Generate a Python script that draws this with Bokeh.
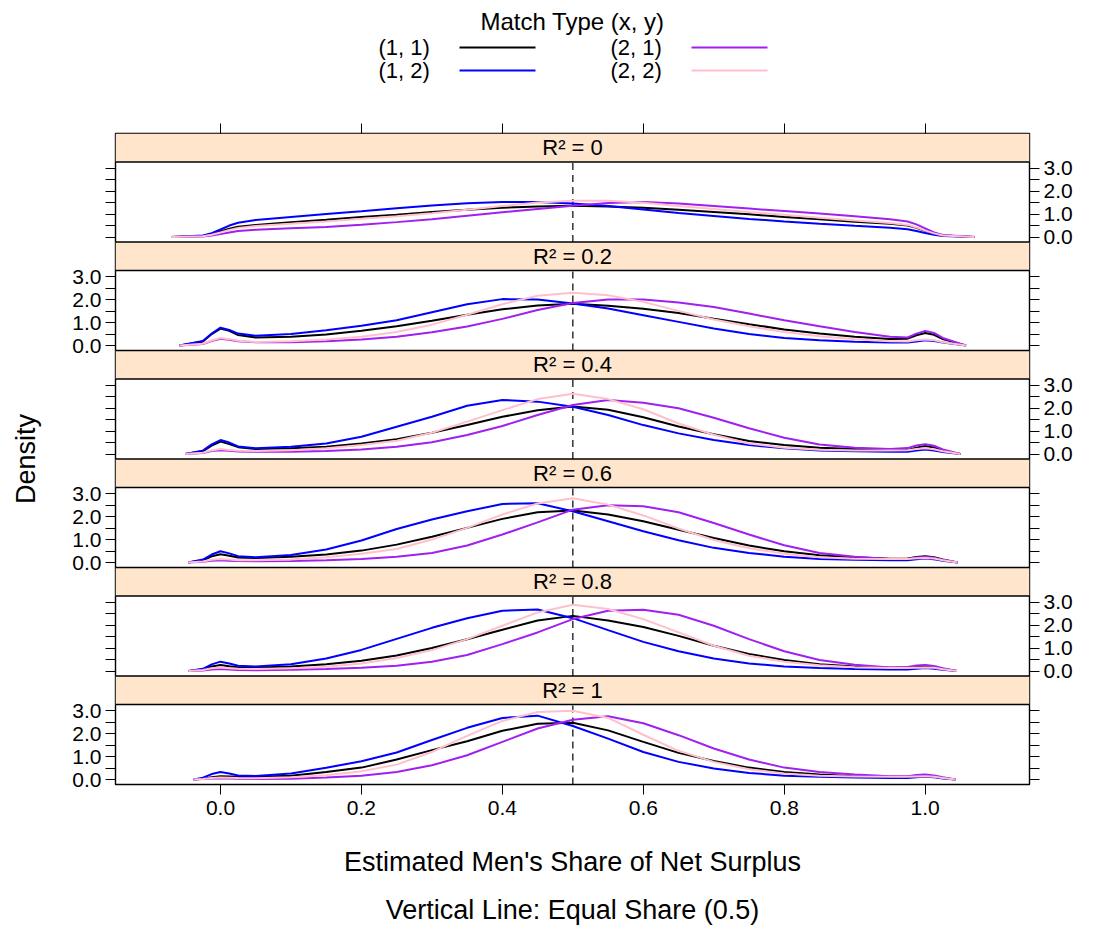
from bokeh.core.properties import value
from bokeh.embed import file_html
from bokeh.layouts import column
from bokeh.models import (ColumnDataSource, CustomJSTickFormatter, FixedTicker,
                          LinearAxis, Range1d, Span, Title)
from bokeh.plotting import figure
from bokeh.resources import INLINE

FONT = "Liberation Sans"

# ---------------------------------------------------------------- data
r2_levels = ["0", "0.2", "0.4", "0.6", "0.8", "1"]
group_labels = ["(1, 1)", "(1, 2)", "(2, 1)", "(2, 2)"]
group_colors = ["#000000", "#0000FF", "#A020F0", "#FFC0CB"]
equal_share = 0.5

# evaluation points of the kernel density estimates (shared interior grid,
# panel-specific support ends)
inner_grid = [-0.025, -0.0125, 0.0, 0.0125, 0.025, 0.05, 0.10, 0.15, 0.20,
              0.25, 0.30, 0.35, 0.40, 0.45, 0.50, 0.55, 0.60, 0.65, 0.70,
              0.75, 0.80, 0.85, 0.90, 0.95, 0.975, 0.9875, 1.0, 1.0125, 1.025]
grid_lo = [-0.07, -0.058, -0.05, -0.046, -0.045, -0.038]
grid_hi = [1.07, 1.058, 1.05, 1.046, 1.045, 1.043]

# density of the estimated share, one list per R^2 level
dens_11 = [
    [0, 0.05, 0.12, 0.24, 0.36, 0.45, 0.53, 0.65, 0.75, 0.87, 0.97, 1.09, 1.19, 1.28, 1.33, 1.36,
     1.33, 1.28, 1.19, 1.09, 0.99, 0.87, 0.77, 0.67, 0.58, 0.50, 0.40, 0.27, 0.15, 0.07, 0],
    [0, 0.18, 0.50, 0.74, 0.64, 0.46, 0.35, 0.38, 0.48, 0.64, 0.84, 1.08, 1.34, 1.58, 1.74, 1.82,
     1.73, 1.60, 1.42, 1.17, 0.93, 0.70, 0.52, 0.38, 0.29, 0.30, 0.45, 0.55, 0.47, 0.28, 0],
    [0, 0.13, 0.37, 0.54, 0.44, 0.30, 0.22, 0.25, 0.32, 0.46, 0.65, 0.93, 1.26, 1.62, 1.91, 2.07,
     1.93, 1.60, 1.20, 0.86, 0.57, 0.39, 0.28, 0.22, 0.17, 0.18, 0.28, 0.35, 0.29, 0.15, 0],
    [0, 0.10, 0.27, 0.36, 0.30, 0.22, 0.20, 0.25, 0.35, 0.52, 0.78, 1.12, 1.51, 1.90, 2.19, 2.26,
     2.09, 1.80, 1.43, 1.07, 0.74, 0.49, 0.32, 0.23, 0.17, 0.18, 0.24, 0.28, 0.23, 0.13, 0],
    [0, 0.08, 0.20, 0.26, 0.21, 0.17, 0.16, 0.20, 0.30, 0.45, 0.68, 1.00, 1.38, 1.80, 2.20, 2.40,
     2.20, 1.92, 1.53, 1.10, 0.74, 0.48, 0.30, 0.20, 0.14, 0.14, 0.18, 0.20, 0.17, 0.10, 0],
    [0, 0.04, 0.10, 0.14, 0.13, 0.12, 0.12, 0.17, 0.33, 0.52, 0.87, 1.28, 1.67, 2.12, 2.43, 2.47,
     2.14, 1.64, 1.16, 0.81, 0.52, 0.33, 0.22, 0.14, 0.12, 0.12, 0.13, 0.14, 0.12, 0.07, 0],
]
dens_12 = [
    [0, 0.07, 0.17, 0.33, 0.50, 0.62, 0.74, 0.87, 1.00, 1.12, 1.25, 1.37, 1.47, 1.53, 1.53, 1.46,
     1.35, 1.20, 1.05, 0.92, 0.79, 0.68, 0.58, 0.49, 0.41, 0.34, 0.26, 0.18, 0.10, 0.05, 0],
    [0, 0.20, 0.52, 0.78, 0.68, 0.52, 0.43, 0.50, 0.67, 0.86, 1.10, 1.45, 1.80, 2.02, 2.00, 1.83,
     1.61, 1.32, 1.03, 0.74, 0.50, 0.33, 0.23, 0.17, 0.13, 0.13, 0.18, 0.23, 0.20, 0.13, 0],
    [0, 0.15, 0.42, 0.61, 0.50, 0.33, 0.25, 0.32, 0.46, 0.75, 1.19, 1.62, 2.10, 2.35, 2.28, 2.06,
     1.70, 1.26, 0.90, 0.61, 0.39, 0.25, 0.16, 0.12, 0.10, 0.10, 0.15, 0.20, 0.16, 0.09, 0],
    [0, 0.13, 0.35, 0.49, 0.40, 0.28, 0.23, 0.33, 0.57, 0.96, 1.46, 1.87, 2.23, 2.55, 2.58, 2.23,
     1.80, 1.36, 0.97, 0.64, 0.42, 0.25, 0.16, 0.12, 0.10, 0.10, 0.14, 0.18, 0.14, 0.08, 0],
    [0, 0.10, 0.29, 0.41, 0.33, 0.23, 0.20, 0.30, 0.55, 0.92, 1.40, 1.88, 2.30, 2.62, 2.68, 2.30,
     1.78, 1.27, 0.86, 0.55, 0.33, 0.20, 0.13, 0.09, 0.07, 0.07, 0.10, 0.13, 0.10, 0.06, 0],
    [0, 0.08, 0.24, 0.33, 0.26, 0.18, 0.16, 0.26, 0.51, 0.80, 1.18, 1.72, 2.25, 2.68, 2.78, 2.33,
     1.78, 1.20, 0.77, 0.48, 0.29, 0.17, 0.12, 0.09, 0.07, 0.07, 0.10, 0.12, 0.10, 0.05, 0],
]
dens_21 = [
    [0, 0.03, 0.07, 0.13, 0.20, 0.26, 0.32, 0.38, 0.44, 0.54, 0.65, 0.78, 0.93, 1.08, 1.22, 1.36,
     1.48, 1.52, 1.46, 1.35, 1.24, 1.13, 1.02, 0.91, 0.78, 0.68, 0.55, 0.38, 0.20, 0.09, 0],
    [0, 0.07, 0.20, 0.30, 0.25, 0.19, 0.14, 0.15, 0.19, 0.26, 0.38, 0.58, 0.83, 1.16, 1.55, 1.85,
     2.00, 2.00, 1.87, 1.68, 1.39, 1.10, 0.84, 0.59, 0.38, 0.35, 0.52, 0.64, 0.55, 0.33, 0],
    [0, 0.05, 0.13, 0.17, 0.14, 0.11, 0.10, 0.10, 0.13, 0.20, 0.32, 0.51, 0.83, 1.22, 1.70, 2.13,
     2.35, 2.23, 1.99, 1.58, 1.12, 0.71, 0.42, 0.28, 0.22, 0.26, 0.37, 0.43, 0.36, 0.20, 0],
    [0, 0.04, 0.08, 0.10, 0.08, 0.07, 0.06, 0.07, 0.10, 0.16, 0.25, 0.42, 0.74, 1.22, 1.75, 2.30,
     2.49, 2.45, 2.19, 1.72, 1.22, 0.75, 0.42, 0.25, 0.16, 0.17, 0.22, 0.25, 0.21, 0.12, 0],
    [0, 0.03, 0.07, 0.09, 0.07, 0.05, 0.04, 0.06, 0.09, 0.14, 0.23, 0.41, 0.70, 1.17, 1.68, 2.26,
     2.62, 2.67, 2.45, 1.97, 1.39, 0.86, 0.48, 0.28, 0.16, 0.18, 0.24, 0.26, 0.22, 0.12, 0],
    [0, 0.02, 0.05, 0.06, 0.05, 0.04, 0.03, 0.04, 0.09, 0.17, 0.33, 0.62, 1.06, 1.64, 2.22, 2.60,
     2.75, 2.45, 1.93, 1.35, 0.87, 0.52, 0.33, 0.22, 0.14, 0.15, 0.20, 0.22, 0.18, 0.10, 0],
]
dens_22 = [
    [0, 0.04, 0.10, 0.20, 0.31, 0.40, 0.48, 0.58, 0.68, 0.80, 0.91, 1.04, 1.19, 1.35, 1.50, 1.58,
     1.58, 1.49, 1.35, 1.22, 1.09, 0.97, 0.84, 0.72, 0.61, 0.53, 0.42, 0.28, 0.16, 0.07, 0],
    [0, 0.08, 0.22, 0.33, 0.28, 0.21, 0.16, 0.19, 0.26, 0.38, 0.59, 0.91, 1.34, 1.80, 2.17, 2.30,
     2.19, 1.90, 1.51, 1.13, 0.84, 0.59, 0.41, 0.27, 0.19, 0.18, 0.23, 0.26, 0.23, 0.14, 0],
    [0, 0.06, 0.16, 0.22, 0.18, 0.14, 0.13, 0.17, 0.25, 0.39, 0.58, 0.93, 1.41, 1.91, 2.39, 2.62,
     2.39, 1.95, 1.33, 0.84, 0.46, 0.28, 0.19, 0.16, 0.16, 0.17, 0.22, 0.25, 0.21, 0.12, 0],
    [0, 0.05, 0.12, 0.16, 0.13, 0.10, 0.10, 0.13, 0.23, 0.38, 0.59, 1.00, 1.51, 2.09, 2.57, 2.80,
     2.52, 2.05, 1.48, 0.98, 0.62, 0.38, 0.23, 0.17, 0.16, 0.16, 0.19, 0.20, 0.18, 0.10, 0],
    [0, 0.05, 0.12, 0.16, 0.12, 0.10, 0.09, 0.12, 0.19, 0.33, 0.57, 0.91, 1.39, 1.97, 2.55, 2.88,
     2.70, 2.26, 1.68, 1.10, 0.67, 0.41, 0.25, 0.17, 0.13, 0.13, 0.15, 0.16, 0.14, 0.08, 0],
    [0, 0.03, 0.07, 0.09, 0.08, 0.07, 0.06, 0.10, 0.19, 0.36, 0.65, 1.20, 1.90, 2.55, 2.94, 2.99,
     2.68, 1.95, 1.25, 0.77, 0.45, 0.26, 0.17, 0.13, 0.12, 0.12, 0.13, 0.14, 0.12, 0.07, 0],
]
group_densities = [dens_11, dens_12, dens_21, dens_22]

x_ticks = [0.0, 0.2, 0.4, 0.6, 0.8, 1.0]
y_ticks = [0.0, 0.5, 1.0, 1.5, 2.0, 2.5, 3.0]

# ---------------------------------------------------------------- layout
# The six panels are stacked inside one plot: each panel gets its own block
# of the vertical scale (density axis + a strip on top of it).
X_LIM = (-0.149, 1.148)
Y_LIM = (-0.214, 3.264)          # density limits shared by every panel
PX_PER_UNIT = 23.0
PANEL_U = Y_LIM[1] - Y_LIM[0]     # panel height in density units
STRIP_U = 28.5 / PX_PER_UNIT      # strip height in density units
BLOCK = PANEL_U + STRIP_U
N = len(r2_levels)
FRAME_W = 914
LEFT_B, RIGHT_B = 115, 65
STRIP_FILL = "#FFE5CC"
TICK_FONT = "21px"
LABEL_FONT = "27px"
BORDER_W = 1.4


def block_base(k):
    """Bottom of the k-th panel (k = 0 is the top panel) on the stacked scale."""
    return (N - 1 - k) * BLOCK


def stacked(k, d):
    return block_base(k) + (d - Y_LIM[0])


frame_h = round(N * BLOCK * PX_PER_UNIT)
p = figure(frame_width=FRAME_W, frame_height=frame_h,
           x_range=Range1d(*X_LIM), y_range=Range1d(0, N * BLOCK),
           output_backend="svg", toolbar_location=None,
           x_axis_location=None, y_axis_location=None,
           min_border_left=LEFT_B, min_border_right=RIGHT_B,
           min_border_top=40, min_border_bottom=145)
p.grid.visible = False
p.background_fill_color = "white"
p.border_fill_color = "white"
p.outline_line_color = "black"
p.outline_line_width = BORDER_W

for k, level in enumerate(r2_levels):
    base = block_base(k)
    strip_lo = base + PANEL_U
    strip_hi = base + BLOCK

    # strip with the conditioning level
    p.quad(left=[X_LIM[0]], right=[X_LIM[1]], bottom=[strip_lo], top=[strip_hi],
           fill_color=STRIP_FILL, line_color=None)
    p.add_layout(Span(location=strip_lo, dimension="width",
                      line_color="black", line_width=BORDER_W))
    if k < N - 1:
        p.add_layout(Span(location=base, dimension="width",
                          line_color="black", line_width=BORDER_W))
    p.text(x=[(X_LIM[0] + X_LIM[1]) / 2], y=[(strip_lo + strip_hi) / 2],
           text=["R\u00b2 = " + level], text_align="center", text_baseline="middle",
           text_font=value(FONT), text_font_size="22px", text_color="black")

    # reference line at equal share
    p.segment(x0=[equal_share], y0=[base], x1=[equal_share], y1=[strip_lo],
              line_color="black", line_dash="7 5", line_width=1.2)

    # density curves
    xs = [grid_lo[k]] + inner_grid + [grid_hi[k]]
    for g, color in enumerate(group_colors):
        ys = [stacked(k, d) for d in group_densities[g][k]]
        src = ColumnDataSource(dict(x=xs, y=ys, density=group_densities[g][k]))
        p.line("x", "y", source=src, line_color=color, line_width=2)


def style_axis(ax):
    ax.axis_line_color = None
    ax.major_tick_in = 0
    ax.major_tick_out = 10
    ax.major_tick_line_color = "black"
    ax.major_tick_line_width = 1
    ax.minor_tick_line_color = None
    ax.major_label_text_font = FONT
    ax.major_label_text_font_size = TICK_FONT
    ax.major_label_text_color = "black"
    ax.major_label_standoff = 4


def style_axis_label(ax, text, standoff):
    ax.axis_label = text
    ax.axis_label_text_font = FONT
    ax.axis_label_text_font_size = LABEL_FONT
    ax.axis_label_text_font_style = "normal"
    ax.axis_label_text_color = "black"
    ax.axis_label_standoff = standoff


# y axes: ticks every 0.5 in every panel, labels alternate right / left
y_tick_pos = [stacked(k, t) for k in range(N) for t in y_ticks]
for side, parity in (("left", 1), ("right", 0)):
    fmt = CustomJSTickFormatter(code=f"""
        const j = Math.floor(tick / {BLOCK} + 1e-9);
        const k = {N - 1} - j;
        const d = Math.round((tick - j * {BLOCK} + ({Y_LIM[0]})) * 2) / 2;
        if (k % 2 !== {parity} || !Number.isInteger(d)) return '';
        return d.toFixed(1);
    """)
    ax = LinearAxis(ticker=FixedTicker(ticks=y_tick_pos), formatter=fmt)
    style_axis(ax)
    if side == "left":
        style_axis_label(ax, "Density", 28)
    p.add_layout(ax, side)

top_ax = LinearAxis(ticker=FixedTicker(ticks=x_ticks),
                    formatter=CustomJSTickFormatter(code="return '';"))
style_axis(top_ax)
top_ax.major_label_text_font_size = "0px"
p.add_layout(top_ax, "above")

bot_ax = LinearAxis(ticker=FixedTicker(ticks=x_ticks),
                    formatter=CustomJSTickFormatter(code="return tick.toFixed(1);"))
style_axis(bot_ax)
bot_ax.major_label_standoff = 6
style_axis_label(bot_ax, "Estimated Men's Share of Net Surplus", 29)
p.add_layout(bot_ax, "below")
sub = Title(text="Vertical Line: Equal Share (0.5)", align="center",
            text_font=FONT, text_font_size=LABEL_FONT, text_font_style="normal",
            text_color="black", standoff=27)
p.add_layout(sub, "below")

# ---------------------------------------------------------------- key
# the key plot shares the main plot's frame geometry; its x scale is in
# page pixels across that frame
KEY_H = 93
key = figure(frame_width=FRAME_W, frame_height=KEY_H,
             x_range=Range1d(LEFT_B, LEFT_B + FRAME_W), y_range=Range1d(KEY_H, 0),
             output_backend="svg", toolbar_location=None,
             x_axis_location=None, y_axis_location=None,
             min_border_left=LEFT_B, min_border_right=RIGHT_B,
             min_border_top=0, min_border_bottom=0)
key.grid.visible = False
key.outline_line_color = None
key.background_fill_color = "white"
key.border_fill_color = "white"
key.text(x=[572], y=[21], text=["Match Type (x, y)"], text_align="center",
         text_baseline="middle", text_font=value(FONT), text_font_size="24px",
         text_color="black")
key_cols = [(378, 459, 535), (610, 691, 767)]
key_rows = [47, 70]
for g, (label, color) in enumerate(zip(group_labels, group_colors)):
    tx, lx0, lx1 = key_cols[g // 2]
    ky = key_rows[g % 2]
    key.text(x=[tx], y=[ky], text=[label], text_align="left", text_baseline="middle",
             text_font=value(FONT), text_font_size="22px", text_color="black")
    key.segment(x0=[lx0], y0=[ky], x1=[lx1], y1=[ky], line_color=color, line_width=2)

layout = column(key, p, spacing=0)

with open("out.html", "w") as f:
    f.write(file_html(layout, INLINE))
